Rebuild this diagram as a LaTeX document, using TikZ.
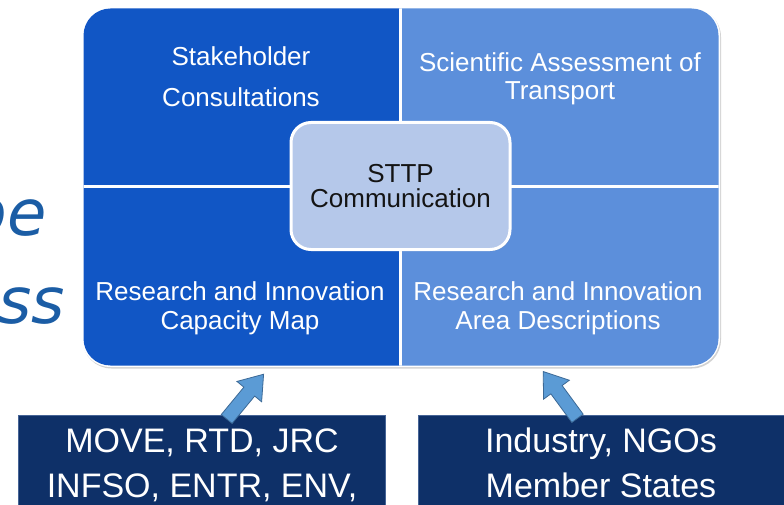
\documentclass[tikz,border=0pt]{standalone}
\usepackage{fontspec}
\setmainfont{Liberation Sans}
\newfontfamily\dvsans{DejaVu Sans}
\usetikzlibrary{shadows}
\definecolor{qdark}{RGB}{17,86,197}
\definecolor{qlight}{RGB}{92,143,219}
\definecolor{cbox}{RGB}{181,200,234}
\definecolor{navy}{RGB}{14,48,104}
\definecolor{navyedge}{RGB}{70,100,150}
\definecolor{arrfill}{RGB}{91,155,213}
\definecolor{arredge}{RGB}{60,105,150}
\definecolor{slidetext}{RGB}{27,93,165}
\begin{document}
\begin{tikzpicture}[x=1pt,y=-1pt,
  qtext/.style={text=white, align=center, inner sep=0pt, anchor=base,
    font=\fontsize{26}{#1}\selectfont},
  btext/.style={text=white, align=center, inner sep=0pt, anchor=base,
    font=\fontsize{34}{44.5}\selectfont},
  navybox/.style={fill=navy, draw=navyedge, line width=1.2pt, inner sep=0pt,
    anchor=north west},
  blockarrow/.style={fill=arrfill, draw=arredge, line width=0.8pt, line join=miter},
  slide/.style={text=slidetext, inner sep=0pt, anchor=base east,
    font=\dvsans\itshape\fontsize{64}{64}\selectfont}]
\useasboundingbox (0,0) rectangle (784,505);
\fill[white] (0,0) rectangle (784,505);

% slide text fragments
\node (frag1) [slide] at (47,235) {pe};
\node (frag2) [slide] at (65,323) {ss};

% outer grid
\path[rounded corners=29pt, fill=white,
  drop shadow={opacity=0.35, shadow xshift=1pt, shadow yshift=-1.5pt}]
  (81.5,6.5) rectangle (720,367);
\begin{scope}
  \clip[rounded corners=27pt] (83.5,8.5) rectangle (718.5,365.5);
  \fill[qdark] (83,8) rectangle (400,367);
  \fill[qlight] (400,8) rectangle (720,367);
  \draw[white, line width=3pt] (400,0) -- (400,370);
  \draw[white, line width=3pt] (80,186.5) -- (722,186.5);
\end{scope}

% quadrant texts (anchor = baseline of last line)
\node (tl) [qtext=41] at (241,106.8) {Stakeholder\\Consultations};
\node (tr) [qtext=28] at (560,99.6) {Scientific Assessment of\\Transport};
\node (bl) [qtext=29.5] at (240,329.5) {Research and Innovation\\Capacity Map};
\node (br) [qtext=29.5] at (558,329.5) {Research and Innovation\\Area Descriptions};

% centre box
\node (sttp) [draw=white, line width=3pt, fill=cbox, rounded corners=20pt,
  minimum width=219pt, minimum height=127pt, align=center, inner sep=0pt,
  font=\fontsize{26}{25.5}\selectfont, text=black!92,
  drop shadow={opacity=0.3, shadow xshift=1pt, shadow yshift=-1.5pt}]
  at (400.5,186) {STTP\\Communication};

% bottom source boxes
\node (srcL) [navybox, minimum width=367pt, minimum height=120pt] at (18,415) {};
\node (srcR) [navybox, minimum width=380pt, minimum height=120pt] at (418,415) {};
\node (srcLt) [btext] at (202,497) {MOVE, RTD, JRC\\INFSO, ENTR, ENV,};
\node (srcRt) [btext] at (601,497) {Industry, NGOs\\Member States};

% block arrows
\coordinate (tailL) at (226.7,419);
\coordinate (tailR) at (577.5,418.3);
\begin{scope}[shift={(tailL)}, rotate=50.5]
  \draw[blockarrow] (0,-7) -- (35.5,-7) -- (35.5,-16) -- (58,0) -- (35.5,16) -- (35.5,7) -- (0,7) -- cycle;
\end{scope}
\begin{scope}[shift={(tailR)}, rotate=126.3]
  \draw[blockarrow] (0,-7) -- (35.5,-7) -- (35.5,-16) -- (58,0) -- (35.5,16) -- (35.5,7) -- (0,7) -- cycle;
\end{scope}
\end{tikzpicture}
\end{document}
